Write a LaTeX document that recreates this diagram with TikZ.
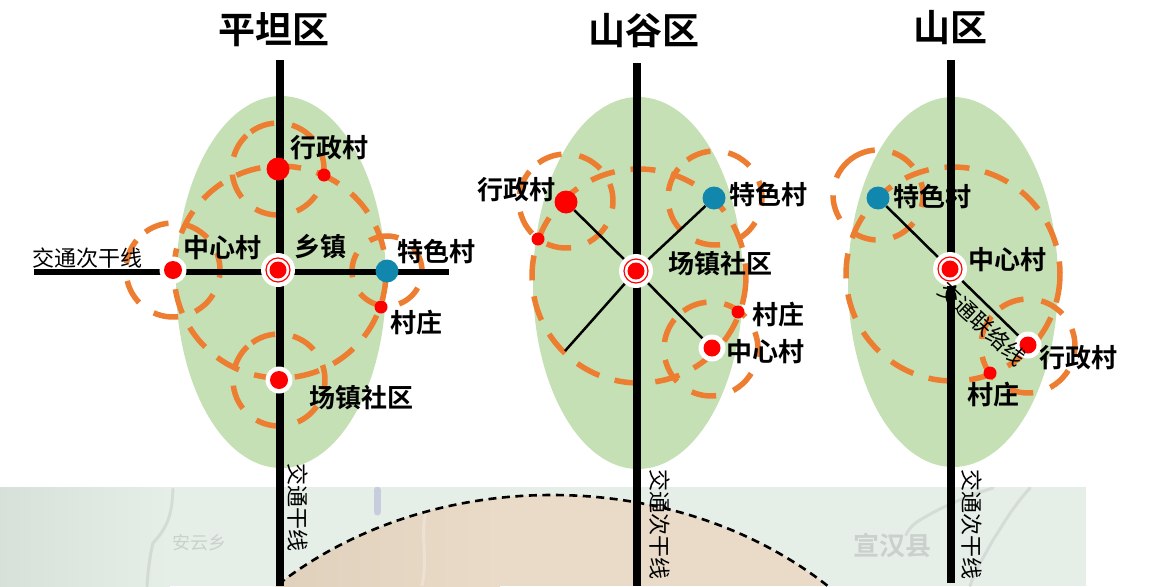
\documentclass[tikz,border=0pt]{standalone}
\usepackage{fontspec}
\setmainfont[BoldFont=Noto Sans CJK SC Bold]{Noto Sans CJK SC}
\usetikzlibrary{calc}
\definecolor{zone}{HTML}{C5E0B4}
\definecolor{ring}{HTML}{ED7D31}
\definecolor{tese}{HTML}{1287AE}
\definecolor{mapbg}{HTML}{E6EEE8}
\definecolor{mapdark}{HTML}{D8E0DA}
\definecolor{dome}{HTML}{EADBC8}
\definecolor{domedark}{HTML}{DDCFBA}
\tikzset{
 x=1pt,y=-1pt,
 ringline/.style={draw=ring,line width=5.5pt,dash pattern=on 25pt off 16pt},
 smallring/.style={draw=ring,line width=5.5pt,dash pattern=on 25pt off 18pt},
 road/.style={line width=8pt,black},
 sideroad/.style={line width=6pt,black},
 link/.style={line width=2.5pt,black},
 main/.style={circle,inner sep=0pt,minimum size=34pt,fill=white},
 halo/.style={circle,inner sep=0pt,minimum size=27pt,fill=white},
 redbig/.style={circle,inner sep=0pt,minimum size=23pt,fill=red},
 redsmall/.style={circle,inner sep=0pt,minimum size=13pt,fill=red},
 bluedot/.style={circle,inner sep=0pt,minimum size=23pt,fill=tese},
 lab/.style={font=\fontsize{26pt}{28pt}\selectfont\bfseries,inner sep=0pt},
 ttl/.style={font=\fontsize{37pt}{40pt}\selectfont\bfseries,inner sep=0pt},
 thin/.style={font=\fontsize{22pt}{24pt}\selectfont,inner sep=0pt},
 streak/.style={line width=3pt,line cap=round,black!40,opacity=.22},
 maptext/.style={inner sep=0pt,black!45,opacity=.3},
}
\newcommand{\townmark}[2]{%
 \node[main] (#1) at (#2) {};
 \fill[red] (#2) circle (8.5pt);
 \draw[red,line width=1.2pt] (#2) circle (12pt);
}
\newcommand{\villmark}[2]{%
 \node[halo] (#1) at (#2) {};
 \fill[red] (#2) circle (9pt);
}
% centre, radius, math angle at which a dash starts (runs clockwise)
\newcommand{\ringat}[3]{\draw[ringline] (#1) ++(#3:#2pt) arc[start angle=#3,delta angle=-360,radius=#2pt];}
\newcommand{\ringsm}[3]{\draw[smallring] (#1) ++(#3:#2pt) arc[start angle=#3,delta angle=-360,radius=#2pt];}
\begin{document}
\begin{tikzpicture}
\useasboundingbox (0,0) rectangle (1158,586);
% map base
\begin{scope}
\clip (0,487) rectangle (1086,586);
\fill[mapbg] (0,487) rectangle (1086,586);
\shade[left color=mapdark,right color=mapbg] (0,487) rectangle (170,586);
\draw[streak] (173,489) .. controls (172,510) and (170,525) .. (153,543) .. controls (150,555) and (148,570) .. (147,586);
\draw[streak] (1030,488) .. controls (1010,510) and (1000,530) .. (993,540) .. controls (985,555) and (975,570) .. (970,586);
\draw[streak] (993,488) .. controls (970,495) and (945,505) .. (920,520) .. controls (912,525) and (908,530) .. (906,535);
\draw[line width=7pt,line cap=round,blue!40!gray,opacity=.2] (377,490) -- (377,512);
\node[maptext,font=\fontsize{18pt}{20pt}\selectfont] (m1) at (199,543) {安云乡};
\node[maptext,font=\fontsize{26pt}{28pt}\selectfont\bfseries] (m2) at (892,545) {宣汉县};
\begin{scope}
\clip (552,825) ellipse [x radius=400,y radius=330];
\shade[left color=domedark,right color=dome] (240,487) rectangle (500,586);
\fill[dome] (500,487) rectangle (860,586);
\draw[line width=3pt,white,opacity=.25] (426,512) .. controls (420,530) and (428,560) .. (422,586);
\end{scope}
\draw[line width=2.6pt,dash pattern=on 8pt off 5.5pt] (552,825) ellipse [x radius=400,y radius=330];
\end{scope}
% zones
\fill[zone] (281,282) ellipse [x radius=105,y radius=186];
\fill[zone] (638,283) ellipse [x radius=105,y radius=186];
\fill[zone] (953,282) ellipse [x radius=105,y radius=185];
% coordinates of road ends
\coordinate (r1a) at (280,60); \coordinate (r1b) at (280,586);
\coordinate (r2a) at (637,63); \coordinate (r2b) at (637,586);
\coordinate (r3a) at (951,60); \coordinate (r3b) at (951,583);
\coordinate (h1a) at (34,272); \coordinate (h1b) at (449,272);
\coordinate (e2) at (565,351);
% rings
\ringat{280,272}{106}{-2}
\ringsm{278,169}{46}{126}
\ringsm{173,270}{47}{126}
\ringsm{387,271}{35}{112}
\ringsm{279,380}{46}{126}
\ringat{639,276}{107}{-2}
\ringsm{566,201}{47}{126}
\ringsm{715,198}{47}{126}
\ringsm{711,349}{47}{126}
\ringat{953,274}{107}{-2}
\ringsm{878,195}{45}{126}
\ringsm{1028,346}{47}{126}
% roads
\draw[road] (r1a) -- (r1b);
\draw[road] (r2a) -- (r2b);
\draw[road] (r3a) -- (r3b);
\draw[sideroad] (h1a) -- (h1b);
% markers plain
\townmark{pm}{278,270}
\node[redbig] (pa) at (278,169) {};
\node[redsmall] (pb) at (324,175) {};
\villmark{pc}{173,270}
\node[bluedot] (pd) at (387,271) {};
\node[redsmall] (pe) at (381,307) {};
\villmark{pf}{279,380}
% markers valley
\coordinate (vm0) at (636,271);
\node[redbig] (va) at (566,202) {};
\node[redsmall] (vb) at (538,239) {};
\node[bluedot] (vc) at (714,198) {};
\node[redsmall] (vd) at (738,312) {};
\node[halo] (ve) at (712,348) {};
\draw[link] (vm0) -- (va);
\draw[link] (vm0) -- (vc);
\draw[link] (vm0) -- (ve);
\draw[link] (vm0) -- (e2);
\townmark{vm}{636,271}
\fill[red] (ve) circle (8.5pt);
% markers mountain
\coordinate (mm0) at (950,269);
\node[bluedot] (ma) at (878,198) {};
\node[halo] (mb) at (1028,345) {};
\node[redsmall] (mc) at (990,373) {};
\draw[link] (mm0) -- (ma);
\draw[link] (mm0) -- (mb);
\townmark{mm}{950,269}
\fill[red] (mb) circle (8.5pt);
% titles
\node[ttl] at (274,30) {平坦区};
\node[ttl] at (644,31) {山谷区};
\node[ttl] at (950,28) {山区};
% labels plain
\node[lab] at (329,148) {行政村};
\node[lab] at (222,248) {中心村};
\node[lab] at (320,247) {乡镇};
\node[lab] at (436,252) {特色村};
\node[lab] at (416,323) {村庄};
\node[lab] at (361,398) {场镇社区};
\node[thin] at (87,258) {交通次干线};
\node[thin,rotate=-90] at (298,507) {交通干线};
% labels valley
\node[lab] at (516,190) {行政村};
\node[lab] at (768,195) {特色村};
\node[lab] at (720,264) {场镇社区};
\node[lab] at (778,315) {村庄};
\node[lab] at (765,352) {中心村};
\node[thin,rotate=-90] at (660,524) {交通次干线};
% labels mountain
\node[lab] at (932,197) {特色村};
\node[lab] at (1007,260) {中心村};
\node[lab] at (1078,358) {行政村};
\node[lab] at (993,395) {村庄};
\node[thin,rotate=-90] at (972,524) {交通次干线};
\node[thin,rotate=-43] at (982,324) {交通联络线};
\end{tikzpicture}
\end{document}
